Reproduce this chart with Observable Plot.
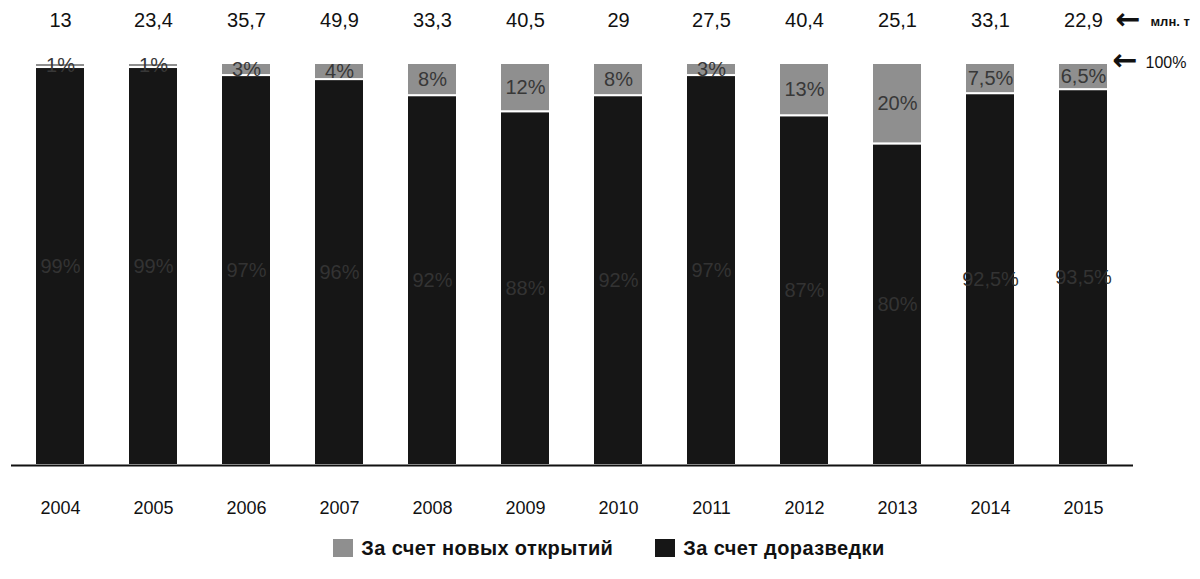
<!DOCTYPE html>
<html>
<head>
<meta charset="utf-8">
<script src="https://cdn.jsdelivr.net/npm/d3@7"></script>
<script src="https://cdn.jsdelivr.net/npm/@observablehq/plot@0.6"></script>
<style>
  html, body { margin: 0; padding: 0; background: #fff; }
  body { width: 1200px; height: 579px; overflow: hidden; font-family: "Liberation Sans", Arial, sans-serif; }
  #legend { display: flex; justify-content: center; align-items: center; height: 40px; padding-left: 18px; font-size: 20px; font-weight: bold; letter-spacing: 0.4px; color: #111; }
  .sw { display: inline-block; width: 20px; height: 18px; margin-right: 8px; }
  .item { display: flex; align-items: center; margin: 0 21px; }
</style>
</head>
<body>
<div id="chart"></div>
<div id="legend"></div>
<script>
const years = ["2004","2005","2006","2007","2008","2009","2010","2011","2012","2013","2014","2015"];
const totals = [13, 23.4, 35.7, 49.9, 33.3, 40.5, 29, 27.5, 40.4, 25.1, 33.1, 22.9];
const newShare = [1, 1, 3, 4, 8, 12, 8, 3, 13, 20, 7.5, 6.5];
const infillShare = [99, 99, 97, 96, 92, 88, 92, 97, 87, 80, 92.5, 93.5];
const seriesNames = ["За счет новых открытий", "За счет доразведки"];
const seriesColors = ["#8f8f8f", "#161616"];
const unitLabel = "млн. т";
const fullLabel = "100%";

const fmt = v => String(v).replace(".", ",");

const rows = [];
years.forEach((y, i) => {
  rows.push({year: y, type: seriesNames[1], value: infillShare[i], mid: infillShare[i] / 2, label: fmt(infillShare[i]) + "%"});
  rows.push({year: y, type: seriesNames[0], value: newShare[i], mid: infillShare[i] + newShare[i] / 2, label: fmt(newShare[i]) + "%"});
});
const totalRows = years.map((y, i) => ({year: y, total: fmt(totals[i])}));
const font = "Liberation Sans, Arial, sans-serif";
const last = [years[years.length - 1]];

const chart = Plot.plot({
  width: 1200,
  height: 528,
  marginTop: 63,
  marginBottom: 63,
  marginLeft: 11,
  marginRight: 67,
  style: {fontFamily: font, background: "#fff", color: "#111"},
  x: {domain: years, paddingInner: 0.46, paddingOuter: 0.26, label: null},
  y: {domain: [0, 100], axis: null},
  color: {domain: seriesNames, range: seriesColors},
  marks: [
    Plot.barY(rows, {x: "year", y: "value", fill: "type", stroke: "#fff", strokeWidth: 2,
      order: [seriesNames[1], seriesNames[0]]}),
    Plot.text(rows.filter(d => d.type === seriesNames[0]), {x: "year", y: "mid", text: "label",
      fill: "#383838", fontSize: 20}),
    Plot.text(rows.filter(d => d.type === seriesNames[1]), {x: "year", y: "mid", text: "label",
      fill: "#333", fontSize: 20}),
    Plot.text(totalRows, {x: "year", y: () => 100, dy: -43, text: "total", fill: "#111", fontSize: 20}),
    Plot.ruleY([0], {stroke: "#111", strokeWidth: 2}),
    Plot.axisX({tickSize: 0, tickPadding: 36, fontSize: 18, fill: "#111", label: null}),
    Plot.text(last, {x: d => d, y: () => 100, dy: -44, dx: 32, text: () => "←",
      textAnchor: "start", fontSize: 30, fontWeight: "bold", fill: "#111", fontFamily: "DejaVu Sans"}),
    Plot.text(last, {x: d => d, y: () => 100, dy: -42, dx: 67, text: () => unitLabel,
      textAnchor: "start", fontSize: 13, fontWeight: "bold", fill: "#111"}),
    Plot.text(last, {x: d => d, y: () => 100, dy: -3, dx: 29, text: () => "←",
      textAnchor: "start", fontSize: 30, fontWeight: "bold", fill: "#111", fontFamily: "DejaVu Sans"}),
    Plot.text(last, {x: d => d, y: () => 100, dy: -1, dx: 62, text: () => fullLabel,
      textAnchor: "start", fontSize: 16, fill: "#111"})
  ]
});
document.getElementById("chart").appendChild(chart);

const legend = document.getElementById("legend");
seriesNames.forEach((name, i) => {
  const item = document.createElement("div");
  item.className = "item";
  const sw = document.createElement("span");
  sw.className = "sw";
  sw.style.background = seriesColors[i];
  item.appendChild(sw);
  item.appendChild(document.createTextNode(name));
  legend.appendChild(item);
});
</script>
</body>
</html>
